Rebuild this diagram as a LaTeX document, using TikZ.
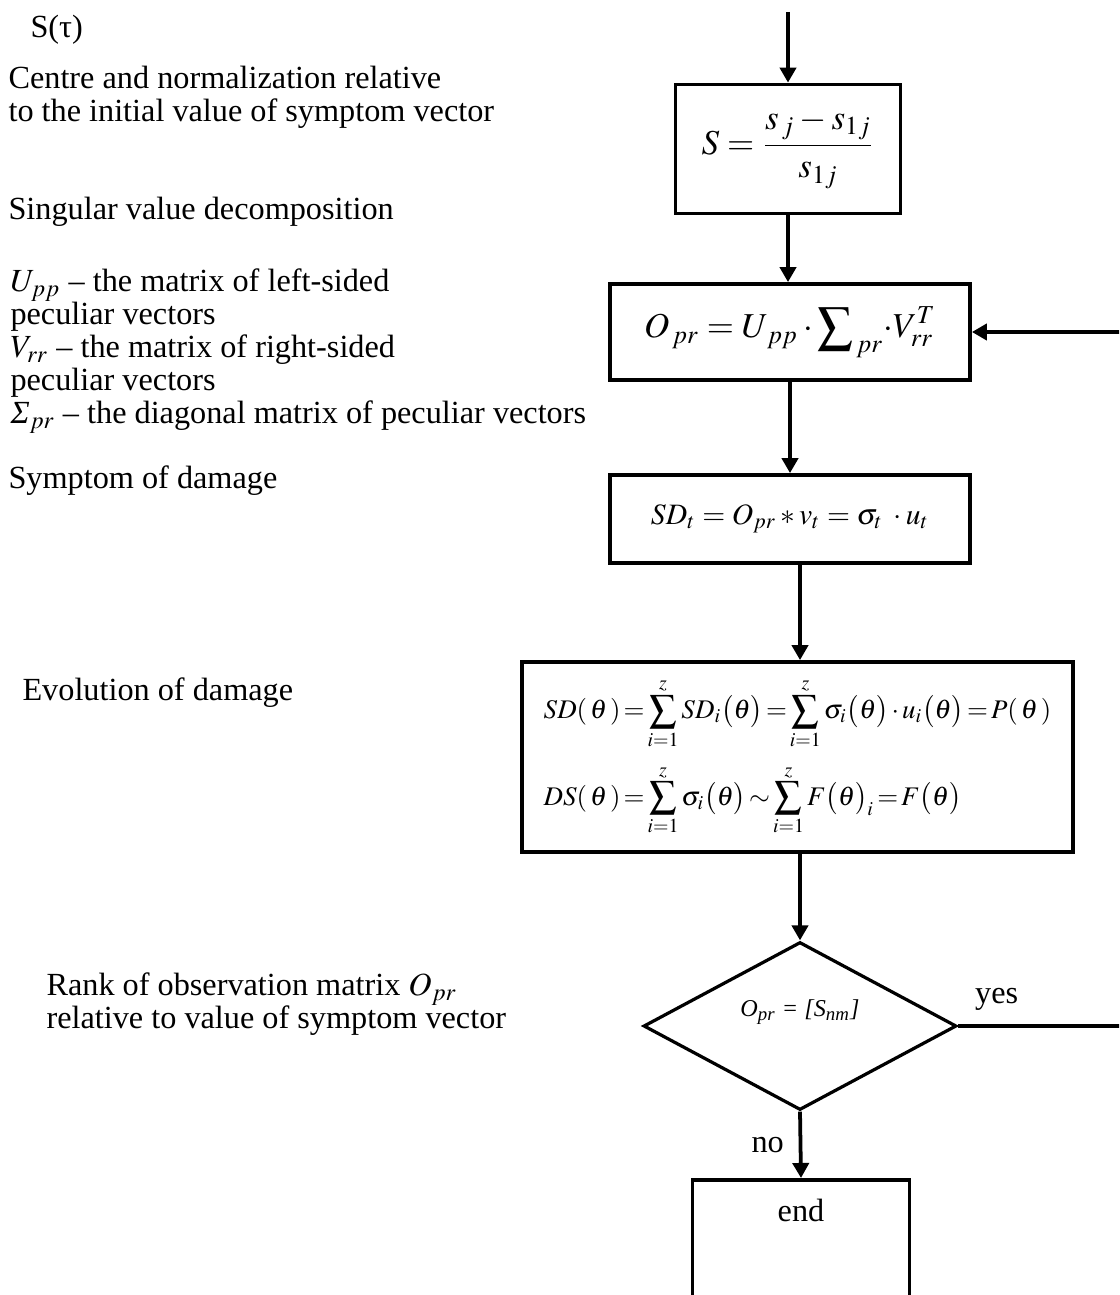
\documentclass[tikz,border=0pt,12pt]{standalone}
\usepackage{mathptmx}
\usepackage{fontspec}
\setmainfont{Liberation Serif}
\usepackage{tikz}
\usetikzlibrary{shapes.geometric,arrows.meta,positioning}
\tikzstyle{arrow} = [-{Triangle[length=5.6pt,width=6pt]}, line width=1.4pt]
\tikzstyle{stepbox} = [draw, line width=1.4pt, inner sep=0pt]
\tikzstyle{note} = [anchor=west, align=left, inner sep=0pt, font=\fontsize{12}{12.3}\selectfont]
\newcommand{\pxu}{0.372pt}
\newcommand{\tightmath}{\thickmuskip=2mu\relax\medmuskip=2mu\relax}

\begin{document}
\begin{tikzpicture}[x=\pxu, y=-\pxu]
    \useasboundingbox (0,0) rectangle (1119,1295);
    \clip (0,0) rectangle (1119,1295);
    % Nodes
    \node[stepbox, minimum width=225*\pxu, minimum height=129*\pxu] (norm) at (788,149)
        {\fontsize{13}{15}\selectfont$\displaystyle S=\frac{s_{\,j}-s_{1j}}{s_{1j}}$};
    \node[stepbox, minimum width=360*\pxu, minimum height=96*\pxu] (svd) at (790,332)
        {\fontsize{13}{15}\selectfont$O_{\,pr}=U_{\,pp}\cdot\displaystyle\sum\nolimits_{\,pr}\!\cdot V_{rr}^{T}$};
    \node[stepbox, minimum width=360*\pxu, minimum height=88*\pxu] (symp) at (790,519)
        {\fontsize{11}{13}\selectfont$SD_t = O_{pr} * v_t = \sigma_t\;\cdot u_t$};
    \node[stepbox, minimum width=551*\pxu, minimum height=190*\pxu, align=left,
          font=\fontsize{10}{11.5}\selectfont] (evol) at (797.5,757)
        {$\tightmath\displaystyle SD(\,\theta\,)=\sum_{i=1}^{z}SD_i\bigl(\theta\bigr)=\sum_{i=1}^{z}\sigma_i\bigl(\theta\bigr)\cdot u_i\bigl(\theta\bigr)=P(\,\theta\,)$\\[5pt]
         $\tightmath\displaystyle DS(\,\theta\,)=\sum_{i=1}^{z}\sigma_i\bigl(\theta\bigr)\sim\sum_{i=1}^{z}F\bigl(\theta\bigr)_i=F\bigl(\theta\bigr)$};
    \node[stepbox, diamond, aspect=2, minimum width=313*\pxu, minimum height=168*\pxu, text depth=13pt, line width=1.2pt,
          font=\fontsize{9}{11}\selectfont\itshape] (rank) at (800,1026)
        {O\textsubscript{pr} = [S\textsubscript{nm}]};
    \node[stepbox, anchor=north, minimum width=217*\pxu, inner ysep=3pt, text height=12.5pt, text depth=40pt] (stop) at (801,1178) {end};
    % Free ends
    \coordinate (in) at (788,12);
    \coordinate (back) at (1126,1026);
    % Arrows
    \draw[arrow] (in) -- (norm);
    \draw[arrow] (norm.south) -- (norm.south |- svd.north);
    \draw[arrow] (svd.south) -- (svd.south |- symp.north);
    \draw[arrow] (symp.south -| rank.north) -- (evol.north -| rank.north);
    \draw[arrow] (evol.south -| rank.north) -- (rank.north);
    \draw[arrow] (rank.south) -- node[left=1.5pt] {no} (stop.north);
    \draw[arrow] (rank.east) -- node[pos=.23, above=1pt] {yes} (back) |- (svd.east);
    % Labels
    \node[note] (tau) at (30,30) {S(τ)};
    \node[note] (centre) at (8,97) {Centre and normalization relative\\to the initial value of symptom vector};
    \node[note] (sing) at (8,212) {Singular value decomposition};
    \node[note] (mats) at (10,351) {$U_{pp}$ -- the matrix of left-sided\\peculiar vectors\\$V_{rr}$ -- the matrix of right-sided\\peculiar vectors\\\textit{Σ}$_{pr}$ -- the diagonal matrix of peculiar vectors};
    \node[note] (dmg) at (8,481) {Symptom of damage};
    \node[note] (evo) at (22,693) {Evolution of damage};
    \node[note] (rk) at (46,1004) {Rank of observation matrix $O_{pr}$\\relative to value of symptom vector};
\end{tikzpicture}
\end{document}
